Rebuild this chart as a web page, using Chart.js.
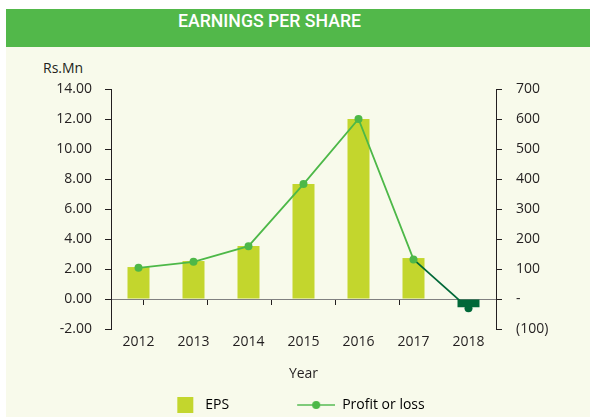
<!DOCTYPE html>
<html><head><meta charset="utf-8">
<script src="https://cdn.jsdelivr.net/npm/chart.js@4.4.1/dist/chart.umd.min.js"></script>
<style>
html,body{margin:0;padding:0;width:590px;height:417px;overflow:hidden;background:#fff;position:relative;}
#bg{position:absolute;left:6px;top:47px;width:584px;height:370px;background:#f8faeb;}
#banner{position:absolute;left:6px;top:9px;width:584px;height:38px;background:#52b84a;}
#title{position:absolute;left:178px;top:9px;height:38px;line-height:38px;color:#fff;font:500 19px Roboto;white-space:nowrap;transform-origin:0 50%;}
#unit{position:absolute;left:43px;top:58px;font:14px "Open Sans";color:#231f20;}
#wrap{position:absolute;left:-29px;top:0;width:585px;height:430px;}
</style></head><body>
<div id="bg"></div><div id="banner"></div><div id="title">EARNINGS PER SHARE</div><div id="unit">Rs.Mn</div>
<div id="wrap"><canvas id="c" width="585" height="430"></canvas></div>
<script>
const years = ['2012', '2013', '2014', '2015', '2016', '2017', '2018'];
const eps = [2.13, 2.53, 3.53, 7.67, 12.0, 2.73, -0.55];
const profit = [104, 124, 176, 383, 600, 132, -31];
const leftTicks = [-2, 0, 2, 4, 6, 8, 10, 12, 14];
const rightTicks = [-100, 0, 100, 200, 300, 400, 500, 600, 700];

const LIME = '#c3d62d', DARK = '#006838', GREEN = '#4db848', TEXT = '#231f20';
const FONT = 'Open Sans';

const t = document.getElementById('title');
const tw = t.getBoundingClientRect().width;
t.style.transform = 'scaleX(' + (183 / tw) + ')';

const B = 96;
function mkEps() {
  const c = document.createElement('canvas'); c.width = B; c.height = 16;
  const g = c.getContext('2d'); g.fillStyle = LIME; g.fillRect(B - 21, 0, 16, 16); return c;
}
function mkLine() {
  const c = document.createElement('canvas'); c.width = B; c.height = 10;
  const g = c.getContext('2d'); g.strokeStyle = '#7fcb7a'; g.lineWidth = 2;
  g.beginPath(); g.moveTo(B - 38, 5); g.lineTo(B, 5); g.stroke();
  g.fillStyle = GREEN; g.beginPath(); g.arc(B - 19, 5, 4, 0, Math.PI * 2); g.fill(); return c;
}
const epsImg = mkEps(), lineImg = mkLine();

const chart = new Chart(document.getElementById('c'), {
  data: {
    labels: years,
    datasets: [
      { type: 'bar', label: 'EPS', data: eps, yAxisID: 'y', order: 1,
        backgroundColor: eps.map(v => v < 0 ? DARK : LIME),
        barPercentage: 0.4, categoryPercentage: 1.0 },
      { type: 'line', label: 'Profit or loss', data: profit, yAxisID: 'y1', order: 0,
        borderColor: GREEN, borderWidth: 1.8, tension: 0,
        pointRadius: 4, pointBorderWidth: 0,
        pointBackgroundColor: profit.map(v => v < 0 ? DARK : GREEN),
        segment: { borderColor: ctx => profit[ctx.p1DataIndex] < 0 ? DARK : GREEN } }
    ]
  },
  options: {
    responsive: false, animation: false,
    layout: { padding: { left: 0, right: 0, top: 89, bottom: 8 } },
    plugins: {
      tooltip: { enabled: false },
      legend: {
        position: 'bottom',
        labels: {
          usePointStyle: true, pointStyleWidth: B, boxHeight: 14, padding: 10,
          color: TEXT, font: { family: FONT, size: 14 },
          generateLabels: () => [
            { text: 'EPS', pointStyle: epsImg, fillStyle: LIME, strokeStyle: LIME, lineWidth: 0, hidden: false, datasetIndex: 0 },
            { text: 'Profit or loss', pointStyle: lineImg, fillStyle: GREEN, strokeStyle: GREEN, lineWidth: 0, hidden: false, datasetIndex: 1 }
          ]
        }
      }
    },
    scales: {
      x: {
        type: 'category',
        grid: { display: false, drawTicks: false },
        border: { display: false },
        ticks: { color: TEXT, font: { family: FONT, size: 14 }, padding: 5 },
        title: { display: true, text: 'Year', color: TEXT, font: { family: FONT, size: 14 }, padding: { top: 9.4, bottom: 6 } }
      },
      x2: {
        type: 'category', position: { y: 0 },
        grid: { display: true, drawOnChartArea: false, drawTicks: true, tickLength: 5, color: '#231f20', offset: true },
        border: { display: true, color: '#808080', width: 1 },
        ticks: { display: false }
      },
      y: {
        position: 'left', min: -2, max: 14,
        afterBuildTicks: s => { s.ticks = leftTicks.map(v => ({ value: v })); },
        afterFit: s => { s.width = 140; },
        grid: { drawOnChartArea: false, tickLength: 6, color: TEXT },
        border: { color: TEXT, width: 1 },
        ticks: { color: TEXT, font: { family: FONT, size: 14 }, padding: 13, callback: v => v.toFixed(2) }
      },
      y1: {
        position: 'right', min: -100, max: 700,
        afterBuildTicks: s => { s.ticks = rightTicks.map(v => ({ value: v })); },
        afterFit: s => { s.width = 60; },
        grid: { drawOnChartArea: false, tickLength: 6, color: TEXT },
        border: { color: TEXT, width: 1 },
        ticks: { color: TEXT, font: { family: FONT, size: 14 }, padding: 14,
          callback: v => v < 0 ? '(' + (-v) + ')' : (v === 0 ? '-' : String(v)) }
      }
    }
  }
});
</script>
</body></html>
